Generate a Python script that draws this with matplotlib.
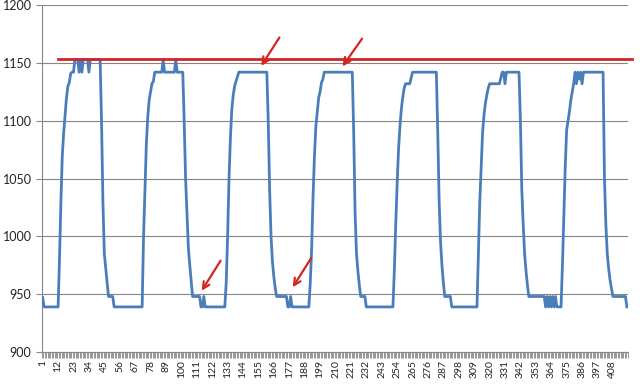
import numpy as np
import matplotlib
matplotlib.use("Agg")
import matplotlib.pyplot as plt

plt.rcParams['font.family'] = ['Lato', 'DejaVu Sans']

# ── DATA ──────────────────────────────────────────────────────────────
values = [
    # 1-72
    947, 939, 939, 939, 939, 939, 939, 939, 939, 939, 939, 939,
    980, 1030, 1070, 1090, 1105, 1120, 1130, 1133, 1141, 1142, 1142,
    1153, 1153, 1153, 1142, 1153, 1142, 1153, 1153, 1153, 1153, 1142,
    1153, 1153, 1153, 1153, 1153, 1153, 1153, 1153,
    1100, 1030, 985, 972, 960, 948, 948, 948, 948,
    939, 939, 939, 939, 939, 939, 939, 939, 939, 939,
    939, 939, 939, 939, 939, 939, 939, 939, 939, 939, 939,
    # 73-131
    1000, 1040, 1080, 1103, 1118, 1125, 1132, 1134,
    1142, 1142, 1142, 1142, 1142, 1142, 1153,
    1142, 1142, 1142, 1142, 1142, 1142, 1142, 1142, 1153,
    1142, 1142, 1142, 1142, 1142,
    1100, 1050, 1020, 990, 975, 962,
    948, 948, 948, 948, 948, 948, 939, 939, 948,
    939, 939, 939, 939, 939, 939, 939, 939, 939, 939,
    939, 939, 939, 939, 939,
    # 132-191
    960, 1000, 1050, 1085, 1110, 1122, 1130, 1134, 1138,
    1142, 1142, 1142, 1142, 1142, 1142, 1142, 1142, 1142, 1142,
    1142, 1142, 1142, 1142, 1142, 1142, 1142, 1142, 1142, 1142, 1142,
    1100, 1040, 1000, 978, 965, 955,
    948, 948, 948, 948, 948, 948, 948, 948, 939, 939, 948,
    939, 939, 939, 939, 939, 939, 939, 939, 939, 939,
    939, 939, 939,
    # 192-251
    960, 990, 1035, 1070, 1095, 1108, 1120, 1125, 1133, 1136,
    1142, 1142, 1142, 1142, 1142, 1142, 1142, 1142, 1142, 1142,
    1142, 1142, 1142, 1142, 1142, 1142, 1142, 1142, 1142, 1142, 1142,
    1090, 1020, 985, 970, 958,
    948, 948, 948, 948,
    939, 939, 939, 939, 939, 939, 939, 939, 939, 939,
    939, 939, 939, 939, 939, 939, 939, 939, 939, 939,
    # 252-311
    970, 1010, 1045, 1075, 1095, 1110, 1120, 1128,
    1132, 1132, 1132, 1132, 1137,
    1142, 1142, 1142, 1142, 1142, 1142, 1142, 1142, 1142,
    1142, 1142, 1142, 1142, 1142, 1142, 1142, 1142, 1142,
    1090, 1030, 995, 975, 960,
    948, 948, 948, 948, 948,
    939, 939, 939, 939, 939, 939, 939, 939, 939, 939,
    939, 939, 939, 939, 939, 939, 939, 939, 939,
    # 312-371
    985, 1030, 1060, 1090, 1105, 1115, 1122, 1128,
    1132, 1132, 1132, 1132, 1132, 1132, 1132, 1132,
    1137, 1142, 1142, 1132,
    1142, 1142, 1142, 1142, 1142, 1142, 1142, 1142, 1142, 1142,
    1100, 1040, 1010, 985, 970, 958,
    948, 948, 948, 948, 948, 948, 948, 948, 948, 948, 948, 948,
    939, 948, 939, 948, 939, 948, 939, 948,
    939, 939, 939, 939,
    # 372-418
    975, 1017, 1060, 1092, 1100, 1108, 1118, 1125, 1132,
    1142, 1132, 1142, 1136, 1142, 1132,
    1142, 1142, 1142, 1142, 1142, 1142, 1142, 1142, 1142, 1142,
    1142, 1142, 1142, 1142, 1142,
    1050, 1010, 985, 972, 962, 955,
    948, 948, 948, 948, 948, 948, 948, 948, 948, 948, 939,
]
x = np.arange(1, len(values) + 1)

y_ticks = [900, 950, 1000, 1050, 1100, 1150, 1200]
label_step = 11

# red reference line (drawn shape) and arrows: (tail x, tail y, tip x, tip y)
ref_level = 1153.3
ref_span = (12, 422)
arrows = [
    (170, 1172, 157, 1147.5),
    (229, 1171, 215, 1147),
    (128, 979, 114.5, 953),
    (192.5, 981, 179.5, 956),
]

grid_color = '#868686'
line_color = '#4A7EBB'
red = '#D42424'

# ── FIGURE ────────────────────────────────────────────────────────────
fig = plt.figure(figsize=(6.4, 3.85), dpi=100)
ax = fig.add_axes([0.0656, 0.0857, 0.915, 0.901])

ax.plot(x, values, color=line_color, linewidth=2.0, zorder=3)

ax.set_ylim(900, 1200)
ax.set_yticks(y_ticks)
ax.set_xlim(0.5, len(values) + 0.5)
ax.set_xticks(x[::label_step])
ax.set_xticklabels([str(v) for v in x[::label_step]], rotation=90,
                   fontsize=7.5, color='#222222')
ax.set_xticks(np.arange(0.5, len(values) + 1, 1), minor=True)
ax.tick_params(axis='x', which='major', length=0, pad=6)
ax.tick_params(axis='x', which='minor', length=4, width=0.6, color=grid_color)
ax.tick_params(axis='y', length=4, width=0.8, color=grid_color,
               labelsize=9, labelcolor='#222222')

ax.yaxis.grid(True, color=grid_color, linewidth=0.8)
ax.set_axisbelow(True)
for side in ['top', 'right']:
    ax.spines[side].set_visible(False)
for side in ['left', 'bottom']:
    ax.spines[side].set_color(grid_color)
    ax.spines[side].set_linewidth(0.8)

# red marker line and arrows
ax.plot(ref_span, [ref_level, ref_level], color=red, linewidth=2.0,
        clip_on=False, zorder=4)
for tx, ty, hx, hy in arrows:
    ax.annotate('', xy=(hx, hy), xytext=(tx, ty),
                arrowprops=dict(arrowstyle='->', color=red, lw=1.6,
                                mutation_scale=12, shrinkA=0, shrinkB=0),
                zorder=5)

fig.savefig('out.png', dpi=100)
